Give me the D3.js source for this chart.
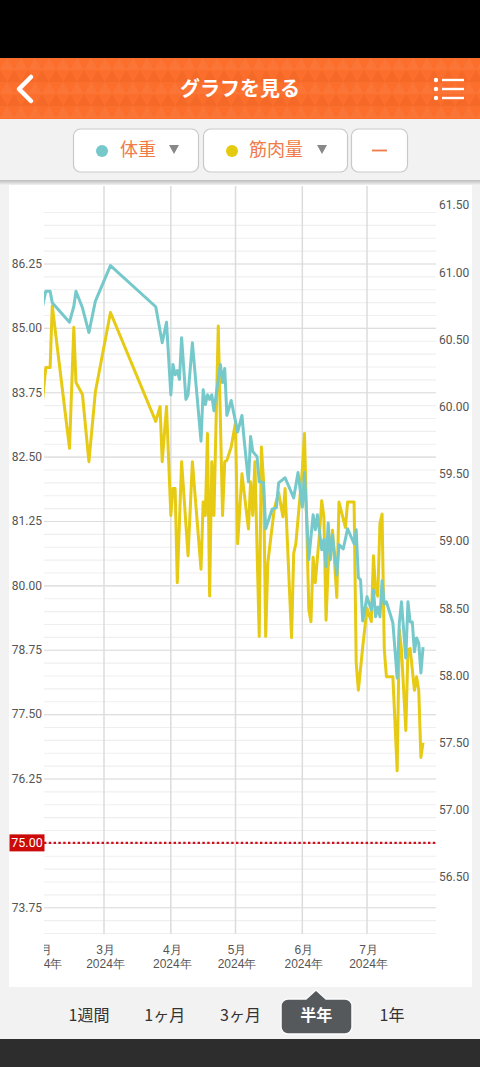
<!DOCTYPE html>
<html lang="ja">
<head>
<meta charset="utf-8">
<script src="https://d3js.org/d3.v7.min.js"></script>
<style>
  html, body { margin: 0; padding: 0; background: #000; }
  svg { display: block; font-family: Roboto, "Noto Sans CJK JP", sans-serif; }
  .jp { font-family: "Noto Sans CJK JP", sans-serif; }
</style>
</head>
<body>
<svg id="chart" width="480" height="1067"></svg>
<script>
const title = 'グラフを見る';
const periods = ['1週間', '1ヶ月', '3ヶ月', '半年', '1年'];
const activePeriod = '半年';
const targetWeight = 75;

const leftTicks = [73.75, 75, 76.25, 77.5, 78.75, 80, 81.25, 82.5, 83.75, 85, 86.25];
const leftMinor = d3.range(73.25, 87.26, 0.25);
const rightTicks = [56.5, 57, 57.5, 58, 58.5, 59, 59.5, 60, 60.5, 61, 61.5];
const monthTicks = ['02-01', '03-01', '04-01', '05-01', '06-01', '07-01'];

// 体重 (left axis)
const weightDates = ['02-01','02-03','02-05','02-06','02-14','02-16','02-17','02-20','02-23','02-26',
  '03-04','03-25','03-28','03-30','04-01','04-02','04-03','04-04','04-05','04-06','04-08','04-09','04-11',
  '04-15','04-16','04-17','04-18','04-19','04-20','04-21','04-24','04-25','04-26','04-27','04-29',
  '05-02','05-04','05-05','05-07','05-08','05-09','05-11','05-12','05-14','05-15','05-18','05-20','05-21',
  '05-24','05-28','05-30','06-01','06-02','06-04','06-06','06-07','06-08','06-10','06-11','06-12','06-13',
  '06-14','06-15','06-17','06-18','06-20','06-22','06-25','06-26','06-27','06-28','06-29',
  '07-01','07-03','07-04','07-05','07-06','07-07','07-08','07-09','07-10','07-12','07-13','07-15','07-16',
  '07-17','07-19','07-20','07-21','07-22','07-23','07-24','07-25','07-26','07-27'];
const weightValues = [85.32,85.71,85.71,85.49,85.11,85.42,85.71,85.39,84.91,85.52,
  86.21,85.41,84.71,85.11,83.70,84.29,84.09,84.17,84.00,84.81,83.61,83.70,84.71,
  82.80,83.80,83.51,83.70,83.61,83.70,83.39,84.29,83.94,84.21,83.30,83.59,
  82.98,83.30,82.83,82.01,82.89,82.60,82.50,82.01,82.00,81.10,81.48,81.51,81.99,
  82.09,81.70,82.19,81.52,82.19,80.50,81.37,81.08,81.37,80.69,80.89,80.36,81.21,
  80.50,80.98,80.20,80.79,80.71,81.10,80.81,81.08,80.15,80.11,79.31,
  79.78,79.52,79.91,79.39,79.58,79.39,80.09,79.64,79.68,79.41,79.27,78.20,79.27,
  79.68,78.59,79.68,79.29,79.29,78.71,78.98,78.88,78.30,78.80];

// 筋肉量 (right axis)
const muscleDates = ['02-01','02-03','02-05','02-06','02-14','02-16','02-17','02-20','02-23','02-26',
  '03-04','03-25','03-27','03-28','03-30','04-01','04-02','04-03','04-04','04-06','04-09','04-11',
  '04-15','04-16','04-17','04-18','04-19','04-20','04-21','04-23','04-25','04-26','04-27','04-29',
  '05-01','05-02','05-04','05-07','05-08','05-09','05-10','05-12','05-13','05-14','05-15','05-16',
  '05-19','05-21','05-23','05-24','05-27','05-28','05-29','06-01','06-02','06-03','06-04','06-05',
  '06-06','06-07','06-09','06-10','06-11','06-12','06-13','06-15','06-17','06-18','06-21','06-22',
  '06-25','06-26','06-27','06-29','07-01','07-03','07-04','07-05','07-06','07-07','07-08','07-09',
  '07-10','07-13','07-15','07-16','07-17','07-19','07-20','07-21','07-23','07-24','07-25','07-26','07-27'];
const muscleValues = [59.97,60.29,60.29,60.75,59.69,60.59,60.18,60.09,59.59,60.11,
  60.70,59.89,60.00,59.59,60.00,59.19,59.39,59.39,58.69,59.59,58.89,59.59,
  58.79,59.29,59.19,59.80,58.59,59.59,59.19,60.60,59.19,59.59,59.60,59.70,
  59.88,58.98,59.50,59.09,59.44,59.19,59.59,58.29,59.70,59.45,58.29,58.84,
  59.24,59.36,59.18,59.39,58.28,58.91,58.98,59.53,59.80,59.15,58.49,58.40,
  58.88,58.69,59.06,59.30,59.18,58.41,58.81,59.08,58.58,59.29,59.10,59.29,
  59.29,58.09,57.89,58.21,58.50,58.40,58.89,58.63,58.59,59.13,59.20,58.20,
  57.99,57.99,57.29,58.34,58.19,57.59,58.19,58.20,57.89,57.99,57.89,57.39,57.50];

const parseDay = (s) => new Date(`2024-${s}T00:00:00`);
const svg = d3.select('#chart');
const defs = svg.append('defs');

// page blocks
svg.append('rect').attr('width', 480).attr('height', 1067).attr('fill', '#f2f2f2');
svg.append('rect').attr('width', 480).attr('height', 58).attr('fill', '#000');
svg.append('rect').attr('y', 1039).attr('width', 480).attr('height', 28).attr('fill', '#2d2d2d');

// header with the triangle texture
const pattern = defs.append('pattern').attr('id', 'tri').attr('patternUnits', 'userSpaceOnUse')
  .attr('x', 0).attr('y', 58).attr('width', 14).attr('height', 24);
pattern.append('path').attr('d', 'M0 12L7 0L14 12Z').attr('fill', 'rgba(255,255,255,0.05)');
pattern.append('path').attr('d', 'M-7 24L0 12L7 24ZM7 24L14 12L21 24Z').attr('fill', 'rgba(190,60,0,0.10)');
svg.append('rect').attr('y', 58).attr('width', 480).attr('height', 61).attr('fill', '#fb6e2c');
svg.append('rect').attr('y', 58).attr('width', 480).attr('height', 61).attr('fill', 'url(#tri)');

svg.append('text').attr('class', 'jp').attr('x', 240).attr('y', 96)
  .attr('text-anchor', 'middle').attr('fill', '#fff').attr('font-size', 20).attr('font-weight', 700).text(title);
svg.append('path').attr('d', 'M31 77L19 89L31 101').attr('fill', 'none').attr('stroke', '#fff')
  .attr('stroke-width', 4.5).attr('stroke-linecap', 'round').attr('stroke-linejoin', 'round');
[80, 89, 98].forEach((y) => {
  svg.append('circle').attr('cx', 436).attr('cy', y).attr('r', 2.2).attr('fill', '#fff');
  svg.append('rect').attr('x', 442).attr('y', y - 1.2).attr('width', 22).attr('height', 2.4).attr('fill', '#fff');
});

// selector buttons
const shadow = defs.append('linearGradient').attr('id', 'shade').attr('x1', 0).attr('x2', 0).attr('y1', 0).attr('y2', 1);
shadow.append('stop').attr('offset', 0).attr('stop-color', '#bbb');
shadow.append('stop').attr('offset', 1).attr('stop-color', '#f2f2f2');

const drawButton = (x, width) => svg.append('rect').attr('x', x + 0.5).attr('y', 129)
  .attr('width', width).attr('height', 43).attr('rx', 7).attr('fill', '#fff').attr('stroke', '#c9c9c9').attr('stroke-width', 1.2);
const drawLegend = (dotX, color, textX, label, arrowX) => {
  svg.append('circle').attr('cx', dotX).attr('cy', 151).attr('r', 6).attr('fill', color);
  svg.append('text').attr('class', 'jp').attr('x', textX).attr('y', 156).attr('font-size', 18)
    .attr('fill', '#ef7b47').text(label);
  svg.append('path').attr('d', `M${arrowX - 5} 145H${arrowX + 5}L${arrowX} 154Z`).attr('fill', '#888');
};
drawButton(73, 125);
drawLegend(102, '#76c9cb', 120, '体重', 174);
drawButton(203, 144);
drawLegend(232, '#e4cb10', 249, '筋肉量', 322);
drawButton(351, 56);
svg.append('rect').attr('x', 372).attr('y', 149.6).attr('width', 15).attr('height', 1.8).attr('fill', '#ef7b47');

// chart card
svg.append('rect').attr('x', 9).attr('y', 181).attr('width', 463).attr('height', 806).attr('fill', '#fff');
svg.append('rect').attr('x', 0).attr('y', 180).attr('width', 480).attr('height', 5).attr('fill', 'url(#shade)');

const plotLeft = 44, plotRight = 436, plotTop = 186, plotBottom = 934;

const x = d3.scaleTime()
  .domain([parseDay('03-01'), parseDay('07-01')])
  .range([104, 367]);
const yLeft = d3.scaleLinear().domain([73.25, 87.25]).range([933, 212]);
const yRight = d3.scaleLinear().domain([56.5, 61.5]).range([877, 205]);

const clip = defs.append('clipPath').attr('id', 'plot');
clip.append('rect').attr('x', plotLeft).attr('y', plotTop).attr('width', plotRight - plotLeft).attr('height', plotBottom - plotTop);
// the February label is cut off at the plot edge; the clip lives in the axis group's coordinates
const labelClip = defs.append('clipPath').attr('id', 'xlabels');
labelClip.append('rect').attr('x', plotLeft).attr('y', 0).attr('width', plotRight - plotLeft).attr('height', 50);

// horizontal grid, minor then major
const minorGrid = svg.append('g').attr('transform', `translate(${plotLeft},0)`)
  .call(d3.axisLeft(yLeft).tickValues(leftMinor).tickSize(-(plotRight - plotLeft)).tickFormat(''));
minorGrid.select('.domain').remove();
minorGrid.selectAll('line').attr('stroke', '#efefef').attr('stroke-width', 1.2);

const leftAxis = svg.append('g').attr('transform', `translate(${plotLeft},0)`)
  .call(d3.axisLeft(yLeft).tickValues(leftTicks).tickSize(-(plotRight - plotLeft)).tickPadding(2).tickFormat(d3.format('.2f')));
leftAxis.select('.domain').remove();
leftAxis.selectAll('line').attr('stroke', '#dedede').attr('stroke-width', 1.2);
leftAxis.selectAll('text').attr('font-family', 'Roboto').attr('font-size', 12).attr('fill', '#555');

// right axis has labels only
const rightAxis = svg.append('g').attr('transform', `translate(${plotRight},0)`)
  .call(d3.axisRight(yRight).tickValues(rightTicks).tickSize(0).tickPadding(3).tickFormat(d3.format('.2f')));
rightAxis.select('.domain').remove();
rightAxis.selectAll('text').attr('font-family', 'Roboto').attr('font-size', 12).attr('fill', '#555');

// month axis, two text rows per tick
const xAxis = svg.append('g').attr('transform', `translate(0,${plotBottom})`).attr('clip-path', 'url(#xlabels)')
  .call(d3.axisBottom(x).tickValues(monthTicks.map(parseDay)).tickSize(0).tickFormat(''));
xAxis.select('.domain').remove();
xAxis.selectAll('.tick text').remove();
xAxis.selectAll('.tick').each(function (d) {
  const tick = d3.select(this);
  [[20, `${d.getMonth() + 1}月`], [34, `${d.getFullYear()}年`]].forEach(([rowY, label]) => {
    tick.append('text').attr('x', 1).attr('y', rowY).attr('text-anchor', 'middle')
      .attr('font-size', 12).attr('fill', '#555').text(label);
  });
});
const monthGrid = svg.append('g').attr('transform', `translate(0,${plotBottom})`)
  .call(d3.axisBottom(x).offset(0).tickValues(monthTicks.slice(1).map(parseDay)).tickSize(-(plotBottom - plotTop)).tickFormat(''));
monthGrid.select('.domain').remove();
monthGrid.selectAll('line').attr('stroke', '#dcdcdc').attr('stroke-width', 1.5);

// target line
svg.append('line').attr('x1', plotLeft).attr('x2', plotRight)
  .attr('y1', yLeft(targetWeight)).attr('y2', yLeft(targetWeight))
  .attr('stroke', '#d0101c').attr('stroke-width', 2.4).attr('stroke-dasharray', '2.4 2.4');
svg.append('rect').attr('x', 9.5).attr('y', yLeft(targetWeight) - 8.5).attr('width', 35).attr('height', 17).attr('fill', '#cc0a0a');
svg.append('text').attr('x', 27).attr('y', yLeft(targetWeight) + 4.5).attr('text-anchor', 'middle')
  .attr('font-size', 12.5).attr('fill', '#fff').text(d3.format('.2f')(targetWeight));

// series, muscle first so the weight line sits on top
const plot = svg.append('g').attr('clip-path', 'url(#plot)');
const drawSeries = (dates, values, scale, color) => {
  const rows = dates.map((d, i) => ({ date: parseDay(d), value: values[i] }));
  plot.append('path').datum(rows)
    .attr('fill', 'none').attr('stroke', color).attr('stroke-width', 3).attr('stroke-linejoin', 'round')
    .attr('d', d3.line().x((d) => x(d.date)).y((d) => scale(d.value)));
};
drawSeries(muscleDates, muscleValues, yRight, '#e6ca14');
drawSeries(weightDates, weightValues, yLeft, '#76c9cb');

// period tabs
const tabX = d3.scalePoint().domain(periods).range([89, 392]);
svg.append('path')
  .attr('d', 'M288 999H306L316 990L326 999H345A7 7 0 0 1 352 1006V1027A7 7 0 0 1 345 1034H288A7 7 0 0 1 281 1027V1006A7 7 0 0 1 288 999Z')
  .attr('fill', '#55595c').attr('stroke', '#fbfbfb').attr('stroke-width', 1.5);
svg.selectAll('.tab').data(periods).join('text')
  .attr('class', 'tab jp')
  .attr('x', (d) => tabX(d)).attr('y', 1021)
  .attr('text-anchor', 'middle').attr('font-size', 16)
  .attr('font-weight', (d) => (d === activePeriod ? 700 : 400))
  .attr('fill', (d) => (d === activePeriod ? '#fff' : '#333'))
  .text((d) => d);
</script>
</body>
</html>
